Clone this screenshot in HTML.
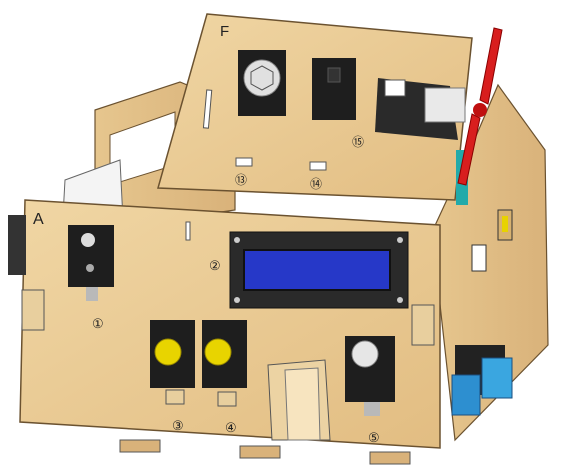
<!DOCTYPE html>
<html><head><meta charset="utf-8"><style>
html,body{margin:0;padding:0;background:#fff;width:564px;height:475px;overflow:hidden}
svg{display:block}
text{font-family:"Liberation Sans",sans-serif}
</style></head><body>
<svg width="564" height="475" viewBox="0 0 564 475">
<defs>
<linearGradient id="wood" x1="0" y1="0" x2="1" y2="1">
<stop offset="0" stop-color="#f0d6a4"/><stop offset="1" stop-color="#e2bd82"/></linearGradient>
<linearGradient id="wood2" x1="0" y1="0" x2="1" y2="0">
<stop offset="0" stop-color="#e6c68e"/><stop offset="1" stop-color="#d9b27a"/></linearGradient>
</defs>
<!-- back wall left -->
<g>
<polygon points="95,110 180,82 235,105 235,210 95,230" fill="url(#wood2)" stroke="#6b5230" stroke-width="1.2"/>
<polygon points="110,135 175,112 175,165 110,185" fill="#fff" stroke="#6b5230"/>
<polygon points="65,180 120,160 125,260 60,270" fill="#f4f4f4" stroke="#666"/>
</g>
<!-- right side wall -->
<g>
<polygon points="432,232 470,150 498,85 545,150 548,345 455,440" fill="url(#wood2)" stroke="#6b5230" stroke-width="1.2"/>
<rect x="498" y="210" width="14" height="30" fill="#d8b26f" stroke="#333"/>
<rect x="502" y="216" width="6" height="16" fill="#e8d200"/>
<rect x="472" y="245" width="14" height="26" fill="#fff" stroke="#333"/>
<rect x="455" y="345" width="50" height="50" fill="#222"/>
<rect x="452" y="375" width="28" height="40" fill="#2d8fd0" stroke="#1a4f80"/>
<rect x="482" y="358" width="30" height="40" fill="#3aa6e0" stroke="#1a4f80"/>
</g>
<!-- front face -->
<g>
<polygon points="25,200 440,225 440,448 20,422" fill="url(#wood)" stroke="#6b5230" stroke-width="1.5"/>
<rect x="8" y="215" width="18" height="60" fill="#333"/>
<text x="33" y="224" font-size="16" fill="#222">A</text>
<rect x="186" y="222" width="4" height="18" fill="#fff" stroke="#555"/>
<rect x="22" y="290" width="22" height="40" fill="#e8cf9e" stroke="#555"/>
<rect x="412" y="305" width="22" height="40" fill="#e8cf9e" stroke="#555"/>
<polygon points="268,365 325,360 330,440 272,440" fill="#ecd3a3" stroke="#555"/>
<polygon points="285,370 318,368 320,440 288,440" fill="#f7e4bf" stroke="#777"/>
<rect x="120" y="440" width="40" height="12" fill="#d9b27a" stroke="#555"/>
<rect x="240" y="446" width="40" height="12" fill="#d9b27a" stroke="#555"/>
<rect x="370" y="452" width="40" height="12" fill="#d9b27a" stroke="#555"/>
</g>
<!-- LCD -->
<g>
<rect x="230" y="232" width="178" height="76" fill="#2a2a2a" stroke="#111"/>
<rect x="244" y="250" width="146" height="40" fill="#2638c8" stroke="#111" stroke-width="2"/>
<circle cx="237" cy="240" r="3" fill="#ccc"/><circle cx="400" cy="240" r="3" fill="#ccc"/>
<circle cx="237" cy="300" r="3" fill="#ccc"/><circle cx="400" cy="300" r="3" fill="#ccc"/>
<text x="209" y="270" font-size="13" fill="#222">②</text>
</g>
<!-- modules -->
<g>
<rect x="68" y="225" width="46" height="62" fill="#1e1e1e"/>
<circle cx="88" cy="240" r="7" fill="#ddd"/><circle cx="90" cy="268" r="4" fill="#aaa"/>
<rect x="86" y="287" width="12" height="14" fill="#b9b9b9"/>
<text x="92" y="328" font-size="13" fill="#222">①</text>
</g>
<g>
<rect x="150" y="320" width="45" height="68" fill="#1e1e1e"/>
<circle cx="168" cy="352" r="13" fill="#e8d400" stroke="#9a8a00"/>
<rect x="166" y="390" width="18" height="14" fill="#e8cf9e" stroke="#555"/>
<text x="172" y="430" font-size="13" fill="#222">③</text>
</g>
<g>
<rect x="202" y="320" width="45" height="68" fill="#1e1e1e"/>
<circle cx="218" cy="352" r="13" fill="#e8d400" stroke="#9a8a00"/>
<rect x="218" y="392" width="18" height="14" fill="#e8cf9e" stroke="#555"/>
<text x="225" y="432" font-size="13" fill="#222">④</text>
</g>
<g>
<rect x="345" y="336" width="50" height="66" fill="#1e1e1e"/>
<circle cx="365" cy="354" r="13" fill="#e6e6e6" stroke="#888"/>
<rect x="364" y="402" width="16" height="14" fill="#b9b9b9"/>
<text x="368" y="442" font-size="13" fill="#222">⑤</text>
</g>
<!-- top panel F -->
<g>
<polygon points="207,14 472,38 455,200 158,188" fill="url(#wood)" stroke="#6b5230" stroke-width="1.5"/>
<text x="220" y="36" font-size="15" fill="#222">F</text>
<rect x="205" y="90" width="5" height="38" fill="#fff" stroke="#555" transform="rotate(5 207 110)"/>
<rect x="238" y="50" width="48" height="66" fill="#1e1e1e"/>
<circle cx="262" cy="78" r="18" fill="#e0e0e0" stroke="#888"/>
<polygon points="262,66 273,72 273,84 262,90 251,84 251,72" fill="none" stroke="#555"/>
<rect x="312" y="58" width="44" height="62" fill="#1e1e1e"/>
<rect x="328" y="68" width="12" height="14" fill="#333" stroke="#555"/>
<polygon points="378,78 450,86 458,140 375,132" fill="#2a2a2a"/>
<rect x="425" y="88" width="40" height="34" fill="#e9e9e9" stroke="#777"/>
<rect x="385" y="80" width="20" height="16" fill="#fff" stroke="#555"/>
<rect x="236" y="158" width="16" height="8" fill="#fff" stroke="#555"/>
<text x="235" y="184" font-size="12" fill="#222">⑬</text>
<rect x="310" y="162" width="16" height="8" fill="#fff" stroke="#555"/>
<text x="310" y="188" font-size="12" fill="#222">⑭</text>
<text x="352" y="146" font-size="12" fill="#222">⑮</text>
</g>
<!-- fan -->
<g>
<rect x="456" y="150" width="12" height="55" fill="#2aa"/>
<polygon points="480,100 494,28 502,30 488,104" fill="#d81e1e" stroke="#8a0000"/>
<polygon points="480,118 466,185 458,183 472,114" fill="#d81e1e" stroke="#8a0000"/>
<circle cx="480" cy="110" r="7" fill="#c01010"/>
</g>
</svg>
</body></html>
